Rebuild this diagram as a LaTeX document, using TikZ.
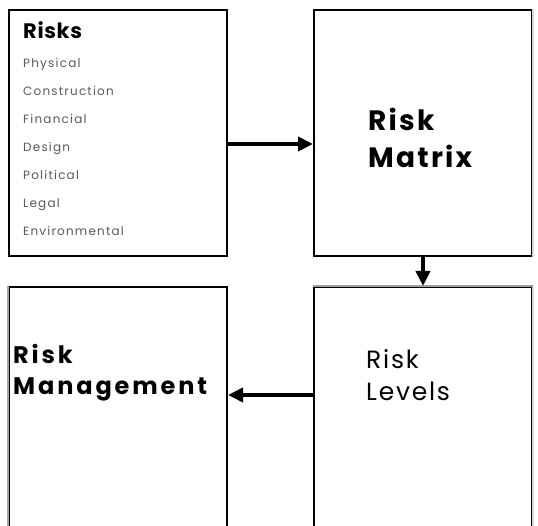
\documentclass[tikz,border=0pt]{standalone}
\usepackage{fontspec}
\setmainfont{Poppins}
\usetikzlibrary{arrows.meta,positioning,calc}

\begin{document}
\begin{tikzpicture}[x=1pt,y=1pt,box/.style={draw,line width=2pt,minimum width=218pt,inner sep=0pt},item/.style={anchor=base west,inner sep=0pt,text=black!65,font=\fontsize{12}{12}\selectfont\addfontfeature{LetterSpace=10}},label/.style={anchor=base west,inner sep=0pt,align=left},flow/.style={-{Triangle[length=15pt,width=14pt]},line width=4pt}]
\useasboundingbox (0,0) rectangle (538,-526);
\clip (0,0) rectangle (538,-526);
\node[box,minimum height=246pt] (risks) at (118,-133) {};
\node[box,minimum height=246pt,right=85pt of risks] (matrix) {};
\node[box,minimum height=262pt,below=29pt of risks] (mgmt) {};
\node[box,minimum height=262pt,right=85pt of mgmt] (levels) {};
% softer edges
\draw[gray!30,line width=2pt] (matrix.north east)--(matrix.south east);
\draw[gray!30,line width=2pt] (levels.north east)--(levels.south east);
\draw[gray!75,line width=2pt] (levels.north west)--(levels.north east);
\draw[gray!70,line width=2pt] (mgmt.north west)--(mgmt.south west);
% risk list
\node[label,font=\bfseries\fontsize{21}{21}\selectfont\addfontfeature{LetterSpace=3}] (title) at ($(risks.north west)+(15,-30)$) {Risks};
\foreach \kind [count=\i] in {Physical,Construction,Financial,Design,Political,Legal,Environmental}
  \node[item] (kind\i) at ($(risks.north west)+(15,{-31-28*\i})$) {\kind};
\node[label,font=\bfseries\fontsize{28}{37}\selectfont\addfontfeature{LetterSpace=8}] (mtext) at ($(matrix.north west)+(55,-159)$) {Risk\\Matrix};
\node[label,font=\fontsize{25}{32}\selectfont\addfontfeature{LetterSpace=7}] (ltext) at ($(levels.north west)+(53,-114)$) {Risk\\Levels};
\node[label,font=\bfseries\fontsize{24}{32}\selectfont\addfontfeature{LetterSpace=12}] (gtext) at ($(mgmt.north west)+(5,-109)$) {Risk\\Management};
\draw[flow] (risks.east|-0,-144)--(matrix.west|-0,-144);
\draw[flow] (matrix.south-|423,0)--(levels.north-|423,0);
\draw[flow] (levels.west|-0,-395)--(mgmt.east|-0,-395);
\end{tikzpicture}
\end{document}
